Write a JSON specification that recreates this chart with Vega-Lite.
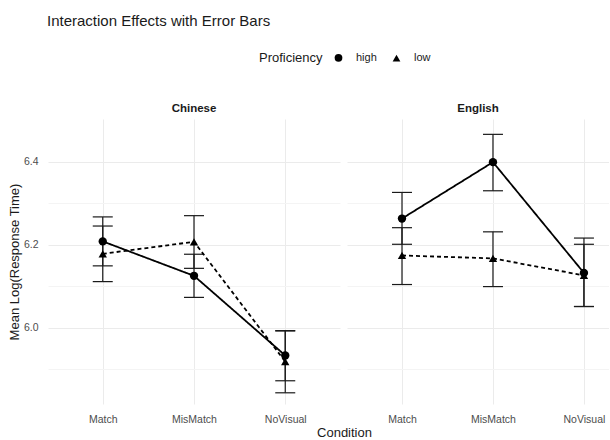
{
  "$schema": "https://vega.github.io/schema/vega-lite/v6.json",
  "background": "white",
  "padding": {"left": 8, "top": 14, "right": 0, "bottom": 0},
  "title": {"text": "Interaction Effects with Error Bars", "anchor": "start", "frame": "group", "fontSize": 15, "fontWeight": "normal", "font": "Liberation Sans", "color": "#1a1a1a", "offset": 23, "dx": -1},
  "data": {"values": [
    {"Language": "Chinese", "Condition": "Match", "Proficiency": "high", "mean": 6.208, "lo": 6.149, "hi": 6.267},
    {"Language": "Chinese", "Condition": "Match", "Proficiency": "low", "mean": 6.178, "lo": 6.111, "hi": 6.245},
    {"Language": "Chinese", "Condition": "MisMatch", "Proficiency": "high", "mean": 6.125, "lo": 6.073, "hi": 6.177},
    {"Language": "Chinese", "Condition": "MisMatch", "Proficiency": "low", "mean": 6.207, "lo": 6.143, "hi": 6.270},
    {"Language": "Chinese", "Condition": "NoVisual", "Proficiency": "high", "mean": 5.933, "lo": 5.872, "hi": 5.993},
    {"Language": "Chinese", "Condition": "NoVisual", "Proficiency": "low", "mean": 5.918, "lo": 5.843, "hi": 5.992},
    {"Language": "English", "Condition": "Match", "Proficiency": "high", "mean": 6.263, "lo": 6.201, "hi": 6.326},
    {"Language": "English", "Condition": "Match", "Proficiency": "low", "mean": 6.174, "lo": 6.104, "hi": 6.241},
    {"Language": "English", "Condition": "MisMatch", "Proficiency": "high", "mean": 6.399, "lo": 6.330, "hi": 6.466},
    {"Language": "English", "Condition": "MisMatch", "Proficiency": "low", "mean": 6.167, "lo": 6.099, "hi": 6.231},
    {"Language": "English", "Condition": "NoVisual", "Proficiency": "high", "mean": 6.132, "lo": 6.051, "hi": 6.216},
    {"Language": "English", "Condition": "NoVisual", "Proficiency": "low", "mean": 6.126, "lo": 6.051, "hi": 6.201}
  ]},
  "spacing": 7,
  "bounds": "flush",
  "resolve": {"scale": {"x": "independent", "y": "shared", "shape": "shared", "strokeDash": "shared"}, "legend": {"shape": "shared", "strokeDash": "shared"}},
  "hconcat": [
    {
      "width": 292,
      "height": 285,
      "title": {"text": "Chinese", "fontSize": 11.5, "fontWeight": "bold", "font": "Liberation Sans", "color": "#1a1a1a", "offset": 5, "anchor": "middle"},
      "transform": [{"filter": "datum.Language === 'Chinese'"}],
      "encoding": {
        "x": {"field": "Condition", "type": "nominal", "scale": {"type": "point", "padding": 0.6},
          "axis": {"title": "Condition", "titleX": 296, "titleAlign": "center", "titleAnchor": null, "labelAngle": 0}}
      },
      "layer": [
        {"mark": {"type": "rule", "color": "#1a1a1a", "strokeWidth": 1.2},
         "encoding": {
           "y": {"field": "lo", "type": "quantitative", "scale": {"domain": [5.816, 6.503], "nice": false, "zero": false},
             "axis": {"title": "Mean Log(Response Time)", "values": [5.9, 6.0, 6.1, 6.2, 6.3, 6.4],
               "labelExpr": "(datum.value == 6 || datum.value == 6.2 || datum.value == 6.4) ? format(datum.value, '.1f') : ''",
               "labelPadding": 10, "titlePadding": 2,
               "gridColor": {"condition": {"test": "datum.value == 5.9 || datum.value == 6.1 || datum.value == 6.3", "value": "#f4f4f4"}, "value": "#ebebeb"}}},
           "y2": {"field": "hi"}}},
        {"mark": {"type": "tick", "orient": "horizontal", "color": "#1a1a1a", "size": 20, "thickness": 1.2, "opacity": 1},
         "encoding": {"y": {"field": "lo", "type": "quantitative"}}},
        {"mark": {"type": "tick", "orient": "horizontal", "color": "#1a1a1a", "size": 20, "thickness": 1.2, "opacity": 1},
         "encoding": {"y": {"field": "hi", "type": "quantitative"}}},
        {"mark": {"type": "line", "color": "black", "strokeWidth": 1.8},
         "encoding": {"y": {"field": "mean", "type": "quantitative"},
           "strokeDash": {"field": "Proficiency", "type": "nominal", "scale": {"domain": ["high", "low"], "range": [[1, 0], [4, 3]]},
             "legend": {"orient": "none", "legendX": 211, "legendY": -67, "direction": "horizontal", "titleOrient": "left", "title": "Proficiency"}}}},
        {"mark": {"type": "point", "filled": true, "color": "black", "opacity": 1, "size": 70},
         "encoding": {"y": {"field": "mean", "type": "quantitative"},
           "shape": {"field": "Proficiency", "type": "nominal", "scale": {"domain": ["high", "low"], "range": ["circle", "triangle-up"]},
             "legend": {"orient": "none", "legendX": 211, "legendY": -67, "direction": "horizontal", "titleOrient": "left", "title": "Proficiency"}}}}
      ]
    },
    {
      "width": 262,
      "height": 285,
      "title": {"text": "English", "fontSize": 11.5, "fontWeight": "bold", "font": "Liberation Sans", "color": "#1a1a1a", "offset": 5, "anchor": "middle"},
      "transform": [{"filter": "datum.Language === 'English'"}],
      "encoding": {
        "x": {"field": "Condition", "type": "nominal", "scale": {"type": "point", "padding": 0.44, "align": 0.687},
          "axis": {"title": null, "labelAngle": 0}}
      },
      "layer": [
        {"mark": {"type": "rule", "color": "#1a1a1a", "strokeWidth": 1.2},
         "encoding": {
           "y": {"field": "lo", "type": "quantitative", "scale": {"domain": [5.816, 6.503], "nice": false, "zero": false},
             "axis": {"title": null, "labels": false, "values": [5.9, 6.0, 6.1, 6.2, 6.3, 6.4],
               "gridColor": {"condition": {"test": "datum.value == 5.9 || datum.value == 6.1 || datum.value == 6.3", "value": "#f4f4f4"}, "value": "#ebebeb"}}},
           "y2": {"field": "hi"}}},
        {"mark": {"type": "tick", "orient": "horizontal", "color": "#1a1a1a", "size": 20, "thickness": 1.2, "opacity": 1},
         "encoding": {"y": {"field": "lo", "type": "quantitative"}}},
        {"mark": {"type": "tick", "orient": "horizontal", "color": "#1a1a1a", "size": 20, "thickness": 1.2, "opacity": 1},
         "encoding": {"y": {"field": "hi", "type": "quantitative"}}},
        {"mark": {"type": "line", "color": "black", "strokeWidth": 1.8},
         "encoding": {"y": {"field": "mean", "type": "quantitative"},
           "strokeDash": {"field": "Proficiency", "type": "nominal", "scale": {"domain": ["high", "low"], "range": [[1, 0], [4, 3]]},
             "legend": {"orient": "none", "legendX": 211, "legendY": -67, "direction": "horizontal", "titleOrient": "left", "title": "Proficiency"}}}},
        {"mark": {"type": "point", "filled": true, "color": "black", "opacity": 1, "size": 70},
         "encoding": {"y": {"field": "mean", "type": "quantitative"},
           "shape": {"field": "Proficiency", "type": "nominal", "scale": {"domain": ["high", "low"], "range": ["circle", "triangle-up"]},
             "legend": {"orient": "none", "legendX": 211, "legendY": -67, "direction": "horizontal", "titleOrient": "left", "title": "Proficiency"}}}}
      ]
    }
  ],
  "config": {
    "font": "Liberation Sans",
    "view": {"stroke": null},
    "axis": {"domain": false, "ticks": false, "grid": true, "gridColor": "#ebebeb", "gridWidth": 1,
      "labelFont": "Liberation Sans", "labelFontSize": 10.5, "labelColor": "#4d4d4d", "labelPadding": 10,
      "titleFont": "Liberation Sans", "titleFontSize": 13, "titleFontWeight": "normal", "titleColor": "#1a1a1a", "titlePadding": 2},
    "legend": {"titleFont": "Liberation Sans", "titleFontSize": 13, "titleFontWeight": "normal", "titleColor": "#1a1a1a",
      "labelFont": "Liberation Sans", "labelFontSize": 11, "labelColor": "#1a1a1a", "symbolFillColor": "black", "symbolStrokeColor": "black",
      "symbolSize": 60, "columnPadding": 12, "titlePadding": 10, "labelOffset": 12}
  }
}
